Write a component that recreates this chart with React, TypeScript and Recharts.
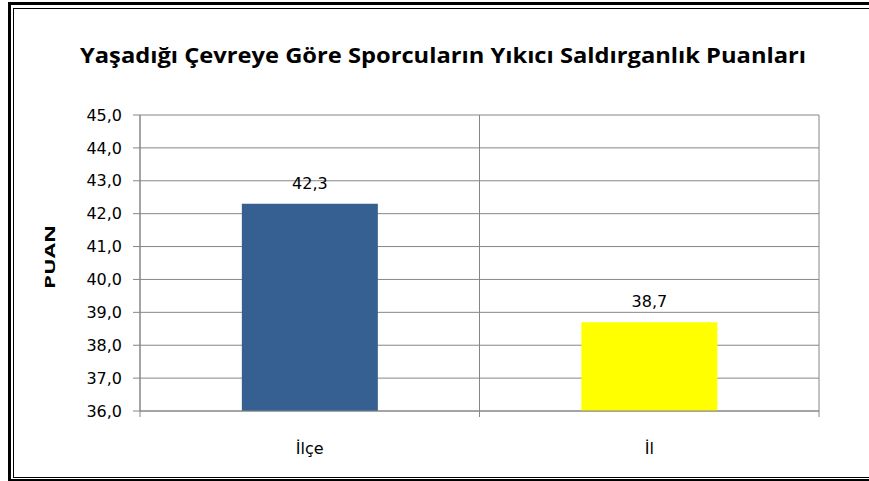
import { BarChart, Bar, XAxis, YAxis, CartesianGrid, Cell, LabelList } from "recharts";

const categories = ["İlçe", "İl"];
const puan = [42.3, 38.7];
const yTicks = [36, 37, 38, 39, 40, 41, 42, 43, 44, 45];
const title = "Yaşadığı Çevreye Göre Sporcuların Yıkıcı Saldırganlık Puanları";
const yLabel = "PUAN";

const barColors = ["#376092", "#FFFF00"];
const gridColor = "#868686";
const font = "'Open Sans', sans-serif";
const tickFont = "'DejaVu Sans', sans-serif";

const W = 869;
const H = 481;
const margin = { top: 115, right: 50, bottom: 10, left: 80 };
const yAxisWidth = 60;
const plotWidth = W - margin.left - margin.right - yAxisWidth;

const data = categories.map((name, i) => ({ name, value: puan[i] }));

const comma = (v: number) => v.toFixed(1).replace(".", ",");

const CategoryTick = (props: any) => {
  const { x, y, payload, index } = props;
  const half = plotWidth / categories.length / 2;
  const last = index === categories.length - 1;
  return (
    <g>
      <line x1={x - half} y1={y} x2={x - half} y2={y + 6} stroke={gridColor} />
      {last && <line x1={x + half} y1={y} x2={x + half} y2={y + 6} stroke={gridColor} />}
      <text x={x} y={y + 43} textAnchor="middle" fontSize={16} fontFamily={tickFont} fill="#000">
        {payload.value}
      </text>
    </g>
  );
};

const App = () => {
  return (
    <div style={{ position: "absolute", left: 0, top: 0, width: W, height: H, overflow: "hidden", background: "#fff" }}>
      <div
        style={{
          position: "absolute", left: 8, top: 2, width: W - 8, height: 479, boxSizing: "border-box",
          borderLeft: "3px solid #000", borderTop: "3px solid #000", borderBottom: "2px solid #000",
        }}
      />
      <div
        style={{
          position: "absolute", left: 13, top: 8, width: W - 13, height: 470, boxSizing: "border-box",
          borderLeft: "1px solid #000", borderTop: "1px solid #000", borderBottom: "1px solid #000",
        }}
      />
      <svg width={W} height={H} style={{ position: "absolute", left: 0, top: 0 }}>
        <text
          x={443}
          y={63}
          textAnchor="middle"
          fontSize={22}
          fontWeight="bold"
          fontFamily={font}
          textLength={726}
          lengthAdjust="spacingAndGlyphs"
          fill="#000"
        >
          {title}
        </text>
        <text
          transform="translate(55 257) rotate(-90)"
          textAnchor="middle"
          fontSize={15}
          fontWeight="bold"
          fontFamily={font}
          textLength={64}
          lengthAdjust="spacingAndGlyphs"
          fill="#000"
        >
          {yLabel}
        </text>
      </svg>
      <div style={{ position: "absolute", left: 0, top: 0 }}>
        <BarChart width={W} height={H} data={data} margin={margin} barCategoryGap="30%">
          <CartesianGrid
            stroke={gridColor}
            verticalCoordinatesGenerator={({ offset }: any) =>
              [0, ...categories.map((_, i) => i + 1)].map((i) => offset.left + (i * offset.width) / categories.length)
            }
          />
          <XAxis
            dataKey="name"
            height={60}
            tickSize={0}
            tickMargin={0}
            tickLine={false}
            axisLine={{ stroke: gridColor }}
            tick={<CategoryTick />}
            interval={0}
          />
          <YAxis
            width={yAxisWidth}
            domain={[36, 45]}
            ticks={yTicks}
            interval={0}
            tickSize={7}
            tickMargin={11}
            tickFormatter={comma}
            axisLine={{ stroke: gridColor }}
            tickLine={{ stroke: gridColor }}
            tick={{ fontSize: 16, fontFamily: tickFont, fill: "#000" }}
            allowDataOverflow
          />
          <Bar dataKey="value" isAnimationActive={false}>
            {data.map((d, i) => (
              <Cell key={d.name} fill={barColors[i % barColors.length]} />
            ))}
            <LabelList
              dataKey="value"
              position="top"
              offset={15}
              formatter={(v: any) => comma(Number(v))}
              style={{ fontSize: 16, fontFamily: tickFont, fill: "#000" }}
            />
          </Bar>
        </BarChart>
      </div>
    </div>
  );
};

export default App;
